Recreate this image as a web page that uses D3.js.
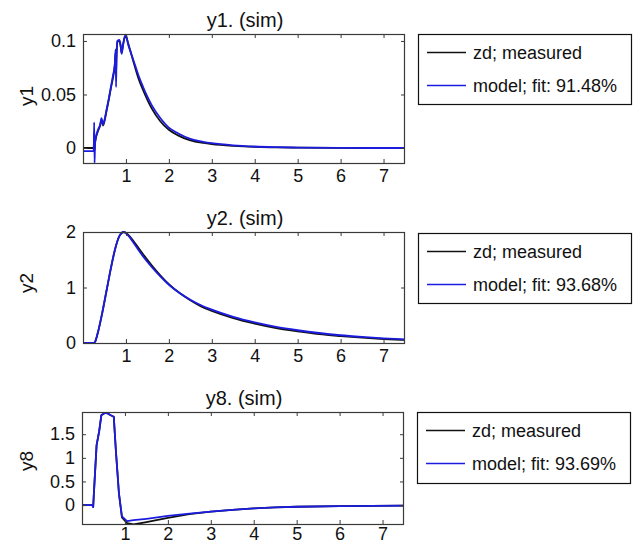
<!DOCTYPE html>
<html>
<head>
<meta charset="utf-8">
<script src="https://cdn.jsdelivr.net/npm/d3@7"></script>
<style>
  html, body { margin: 0; padding: 0; background: #fff; }
  svg { display: block; font-family: "Liberation Sans", Arial, Helvetica, sans-serif; }
</style>
</head>
<body>
<svg id="chart" width="633" height="545"></svg>
<script>
// ---------- data ----------
const xTicks = [1, 2, 3, 4, 5, 6, 7];

const t1 = [0, 0.25, 0.26, 0.27, 0.28, 0.3, 0.35, 0.4, 0.43, 0.47, 0.5, 0.55, 0.6, 0.65, 0.7, 0.74, 0.76, 0.77, 0.78, 0.8, 0.85, 0.88, 0.9, 0.93, 0.97, 1.0, 1.05, 1.1, 1.2, 1.3, 1.4, 1.5, 1.6, 1.8, 2.0, 2.2, 2.5, 2.8, 3.0, 3.5, 4.0, 4.5, 5.0, 6.0, 7.5];
const y1Measured = [0, 0, 0.014, -0.002, 0.004, 0.009, 0.016, 0.021, 0.026, 0.021, 0.025, 0.035, 0.045, 0.056, 0.066, 0.077, 0.089, 0.070, 0.084, 0.099, 0.100, 0.094, 0.089, 0.096, 0.103, 0.104, 0.098, 0.091, 0.077, 0.064, 0.054, 0.045, 0.037, 0.025, 0.017, 0.012, 0.0072, 0.0048, 0.0037, 0.002, 0.001, 0.0006, 0.0003, 0.0001, 0];
const y1Model = [-0.003, -0.003, 0.024, -0.014, 0.005, 0.010, 0.017, 0.022, 0.028, 0.022, 0.026, 0.036, 0.046, 0.057, 0.068, 0.078, 0.092, 0.057, 0.085, 0.100, 0.101, 0.095, 0.088, 0.095, 0.104, 0.106, 0.097, 0.091, 0.079, 0.067, 0.057, 0.048, 0.040, 0.028, 0.019, 0.014, 0.0085, 0.0058, 0.0045, 0.0025, 0.0014, 0.0008, 0.0004, 0.0001, 0];
const y1Ticks = [0, 0.05, 0.1];

const t2 = [0, 0.25, 0.28, 0.35, 0.45, 0.55, 0.65, 0.75, 0.85, 0.95, 1.05, 1.2, 1.4, 1.6, 1.8, 2.0, 2.25, 2.5, 2.75, 3.0, 3.5, 4.0, 4.5, 5.0, 5.5, 6.0, 6.5, 7.0, 7.5];
const y2Measured = [0, 0, 0.02, 0.2, 0.55, 0.95, 1.35, 1.7, 1.93, 2.0, 1.95, 1.81, 1.6, 1.4, 1.22, 1.06, 0.9, 0.77, 0.66, 0.58, 0.45, 0.35, 0.27, 0.21, 0.16, 0.125, 0.095, 0.072, 0.055];
const y2Model = [0, 0, 0.02, 0.2, 0.55, 0.95, 1.35, 1.7, 1.93, 2.0, 1.94, 1.78, 1.56, 1.37, 1.2, 1.05, 0.9, 0.78, 0.68, 0.6, 0.47, 0.37, 0.29, 0.23, 0.18, 0.14, 0.11, 0.085, 0.065];
const y2Ticks = [0, 1, 2];

const t8 = [0, 0.24, 0.26, 0.28, 0.34, 0.4, 0.45, 0.53, 0.6, 0.67, 0.74, 0.79, 0.86, 0.93, 1.05, 1.2, 1.5, 2.0, 2.5, 3.0, 3.5, 4.0, 4.5, 5.0, 6.0, 7.5];
const y8Measured = [0, 0, -0.04, 0.3, 1.27, 1.56, 1.9, 1.95, 1.94, 1.9, 1.87, 1.14, 0.25, -0.26, -0.38, -0.41, -0.36, -0.27, -0.19, -0.14, -0.1, -0.07, -0.05, -0.035, -0.02, -0.01];
const y8Model = [0, 0, -0.04, 0.3, 1.27, 1.56, 1.9, 1.95, 1.94, 1.9, 1.87, 1.14, 0.25, -0.24, -0.34, -0.32, -0.29, -0.23, -0.18, -0.14, -0.1, -0.07, -0.05, -0.035, -0.02, -0.01];
const y8Ticks = [0, 0.5, 1, 1.5];

const titles = ["y1. (sim)", "y2. (sim)", "y8. (sim)"];
const yLabels = ["y1", "y2", "y8"];
const fits = ["91.48%", "93.68%", "93.69%"];
const seriesNames = ["zd; measured", "model; fit: "];

// ---------- layout ----------
const panels = [
  { t: t1, meas: y1Measured, model: y1Model, ticks: y1Ticks, yDom: [-0.014, 0.1065], curve: d3.curveMonotoneX, pad: 6,
    box: { x0: 83, x1: 405, y0: 34, y1: 163 }, labelY: 96, leg: { x: 418, y: 34, w: 213, h: 70 } },
  { t: t2, meas: y2Measured, model: y2Model, ticks: y2Ticks, yDom: [0, 2.0], curve: d3.curveMonotoneX, pad: 6,
    box: { x0: 83, x1: 405, y0: 232, y1: 343 }, labelY: 283, leg: { x: 418, y: 233, w: 213, h: 70 } },
  { t: t8, meas: y8Measured, model: y8Model, ticks: y8Ticks, yDom: [-0.4, 1.97], curve: d3.curveLinear, pad: 3.5,
    box: { x0: 82, x1: 404, y0: 412, y1: 524 }, labelY: 461, leg: { x: 417, y: 412, w: 213, h: 71 } }
];

const BLUE = "#1c1ce0";
const BLACK = "#111";
const AXIS = "#3a3a3a";
const FONT = 18;

const svg = d3.select("#chart");

panels.forEach((p, i) => {
  const b = p.box;
  const x = d3.scaleLinear().domain([0, 7.5]).range([b.x0, b.x1]);
  const y = d3.scaleLinear().domain(p.yDom).range([b.y1, b.y0]);
  const g = svg.append("g");

  const clipId = "clip" + i;
  svg.append("clipPath").attr("id", clipId)
    .append("rect").attr("x", b.x0).attr("y", b.y0 - 1)
    .attr("width", b.x1 - b.x0).attr("height", b.y1 - b.y0 + 2);

  const line = d3.line().curve(p.curve).x(d => x(d[0])).y(d => y(d[1]));
  const lg = g.append("g").attr("clip-path", `url(#${clipId})`);
  lg.append("path").datum(p.t.map((tt, k) => [tt, p.meas[k]]))
    .attr("d", line).attr("fill", "none").attr("stroke", BLACK)
    .attr("stroke-width", 1.8).attr("stroke-linejoin", "round");
  lg.append("path").datum(p.t.map((tt, k) => [tt, p.model[k]]))
    .attr("d", line).attr("fill", "none").attr("stroke", BLUE)
    .attr("stroke-width", 1.8).attr("stroke-linejoin", "round");

  const styleAxis = sel => {
    sel.select(".domain").remove();
    sel.selectAll(".tick line").attr("stroke", AXIS).attr("stroke-width", 1);
    sel.selectAll(".tick text").attr("fill", "#111")
      .style("font-size", FONT + "px").style("font-family", "Liberation Sans, Arial, sans-serif");
  };
  g.append("g").attr("transform", `translate(0,${b.y1})`)
    .call(d3.axisBottom(x).tickValues(xTicks).tickSize(-4).tickPadding(p.pad).tickFormat(d3.format("d")))
    .call(styleAxis);
  g.append("g").attr("transform", `translate(0,${b.y0})`)
    .call(d3.axisTop(x).tickValues(xTicks).tickSize(-4).tickFormat(""))
    .call(styleAxis);
  g.append("g").attr("transform", `translate(${b.x0},0)`)
    .call(d3.axisLeft(y).tickValues(p.ticks).tickSize(-4).tickPadding(7).tickFormat(d => String(d)))
    .call(styleAxis);
  g.append("g").attr("transform", `translate(${b.x1},0)`)
    .call(d3.axisRight(y).tickValues(p.ticks).tickSize(-4).tickFormat(""))
    .call(styleAxis);

  g.append("rect").attr("x", b.x0 + 0.5).attr("y", b.y0 + 0.5)
    .attr("width", b.x1 - b.x0 - 1).attr("height", b.y1 - b.y0)
    .attr("fill", "none").attr("stroke", AXIS).attr("stroke-width", 1.2);

  g.append("text").attr("x", (b.x0 + b.x1) / 2 + 1).attr("y", b.y0 - 7)
    .attr("text-anchor", "middle").style("font-size", "20px").attr("fill", "#111")
    .text(titles[i]);

  g.append("text").attr("transform", `translate(33,${p.labelY}) rotate(-90)`)
    .attr("text-anchor", "middle").style("font-size", "19px").attr("fill", "#111")
    .text(yLabels[i]);

  const L = p.leg;
  const leg = g.append("g");
  leg.append("rect").attr("x", L.x + 0.5).attr("y", L.y + 0.5).attr("width", L.w).attr("height", L.h)
    .attr("fill", "#fff").attr("stroke", "#111").attr("stroke-width", 1.2);
  const rows = [
    { name: seriesNames[0], color: BLACK },
    { name: seriesNames[1] + fits[i], color: BLUE }
  ];
  rows.forEach((r, k) => {
    const ly = L.y + 18.5 + k * 33;
    leg.append("line").attr("x1", L.x + 9).attr("x2", L.x + 48)
      .attr("y1", ly).attr("y2", ly).attr("stroke", r.color).attr("stroke-width", 1.5);
    leg.append("text").attr("x", L.x + 55).attr("y", ly + 6.5)
      .style("font-size", FONT + "px").attr("fill", "#111").text(r.name);
  });
});
</script>
</body>
</html>
